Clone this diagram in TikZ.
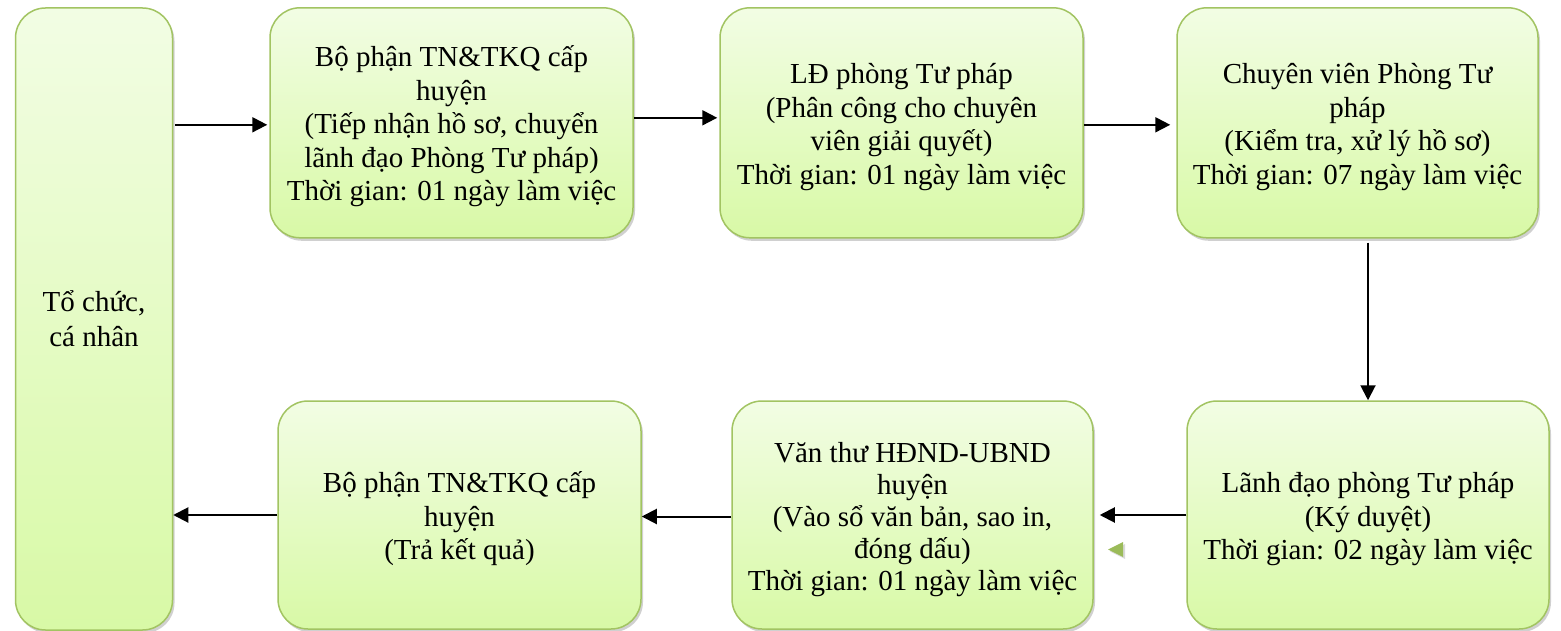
\documentclass[tikz,border=0pt]{standalone}
\usepackage{fontspec}
\setmainfont{Liberation Serif}
\usetikzlibrary{shadows,arrows.meta}
\definecolor{bordergreen}{HTML}{A2C462}
\definecolor{topgreen}{HTML}{F2FDE4}
\definecolor{botgreen}{HTML}{D8F9A6}
\definecolor{trigreen}{HTML}{9BBB59}
\newcommand\firstln{\rule{0pt}{31pt}}
\newcommand\lastln{\rule[-9pt]{0pt}{9pt}}
\tikzset{
  box/.style={draw=bordergreen, line width=1.5pt, rounded corners=30pt,
    top color=topgreen, bottom color=botgreen, align=center, inner sep=0pt,
    font=\fontsize{29}{33.5}\selectfont,
    drop shadow={shadow xshift=2pt, shadow yshift=-3pt, opacity=0.3, fill=black!60}},
  flow/.style={line width=2pt, -{Triangle[length=15pt,width=15pt]}}
}
\begin{document}
\begin{tikzpicture}[x=1pt,y=1pt]
\useasboundingbox (0,0) rectangle (1561,-631);
\fill[white] (0,0) rectangle (1561,-631);

\node[box, minimum width=157pt, minimum height=622pt,
      font=\fontsize{29}{35}\selectfont] (L) at (94,-319) {Tổ chức,\\cá nhân};
\node[box, minimum width=363pt, minimum height=230pt] (b1) at (451.5,-122.8)
  {\firstln Bộ phận TN\&TKQ cấp\\huyện\\(Tiếp nhận hồ sơ, chuyển\\lãnh đạo Phòng Tư pháp)\\Thời gian: 01 ngày làm việc\lastln};
\node[box, minimum width=363pt, minimum height=230pt] (b2) at (901.5,-122.8)
  {\firstln LĐ phòng Tư pháp\\(Phân công cho chuyên\\viên giải quyết)\\Thời gian: 01 ngày làm việc\lastln};
\node[box, minimum width=361pt, minimum height=230pt] (b3) at (1357.5,-122.8)
  {\firstln Chuyên viên Phòng Tư\\pháp\\(Kiểm tra, xử lý hồ sơ)\\Thời gian: 07 ngày làm việc\lastln};
\node[box, minimum width=362pt, minimum height=228pt] (b4) at (1368,-515)
  {\firstln Lãnh đạo phòng Tư pháp\\(Ký duyệt)\\Thời gian: 02 ngày làm việc\lastln};
\node[box, minimum width=361pt, minimum height=228pt,
      font=\fontsize{29}{32}\selectfont] (b5) at (912.5,-515)
  {\firstln Văn thư HĐND-UBND\\huyện\\(Vào sổ văn bản, sao in,\\đóng dấu)\\Thời gian: 01 ngày làm việc\lastln};
\node[box, minimum width=363pt, minimum height=228pt] (b6) at (459.5,-515)
  {\firstln Bộ phận TN\&TKQ cấp\\huyện\\(Trả kết quả)\lastln};

\coordinate (a1) at ([yshift=-2pt]b1.west);
\draw[flow, shorten <=2pt, shorten >=2pt] (a1 -| L.east) -- (a1);
\draw[flow, shorten >=2pt] ([yshift=5pt]b1.east) -- ([yshift=5pt]b2.west);
\draw[flow, shorten >=6pt] ([yshift=-2pt]b2.east) -- ([yshift=-2pt]b3.west);
\draw[flow, shorten <=4pt] (b3.south -| b4.north) -- (b4.north);
\draw[flow, shorten >=6pt] (b4.west) -- (b5.east);
\draw[flow] ([yshift=-1.5pt]b5.west) -- ([yshift=-1.5pt]b6.east);
\draw[flow] (b6.west) -- (b6.west -| L.east);

\fill[black, opacity=0.15] (1110,-551.5) -- (1125,-544) -- (1125,-559) -- cycle;
\fill[trigreen] (1108,-549.5) -- (1123,-542) -- (1123,-557) -- cycle;
\end{tikzpicture}
\end{document}
